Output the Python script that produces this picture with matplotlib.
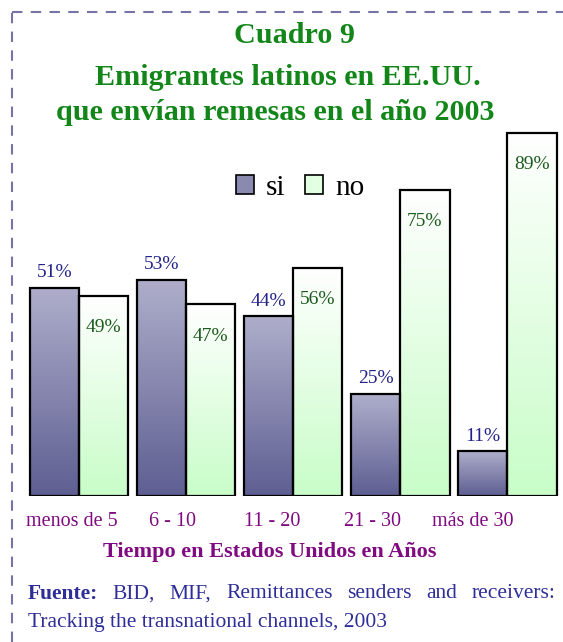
import numpy as np
import matplotlib
matplotlib.use("Agg")
from matplotlib import pyplot as plt
from matplotlib.patches import Patch
from matplotlib.lines import Line2D
from matplotlib.colors import LinearSegmentedColormap

plt.rcParams['font.family'] = ['Liberation Serif', 'DejaVu Serif']

# datos
categorias = ["menos de 5", "6 - 10", "11 - 20", "21 - 30", "más de 30"]
si = [51, 53, 44, 25, 11]
no = [49, 47, 56, 75, 89]
titulo = ["Cuadro 9", "Emigrantes latinos en EE.UU.",
          "que envían remesas en el año 2003"]
xlabel = "Tiempo en Estados Unidos en Años"
fuente1 = ["Fuente:", "BID,", "MIF,", "Remittances", "senders", "and", "receivers:"]
fuente2 = "Tracking the transnational channels, 2003"

W, H = 563, 642
fig = plt.figure(figsize=(W / 100, H / 100), dpi=100)
ax = fig.add_axes([25 / W, (H - 496) / H, (W - 25) / W, 408 / H])
ax.axis("off")

cm_si = LinearSegmentedColormap.from_list("si", ["#5e5e92", "#aeaecb"])
cm_no = LinearSegmentedColormap.from_list("no", ["#c8fdc8", "#ffffff"])
grad = np.linspace(0, 1, 256).reshape(-1, 1)

x = np.arange(len(categorias))
w = 0.46

def grad_bars(xs, vals, cmap):
    bars = ax.bar(xs, vals, width=w, facecolor="none", edgecolor="black",
                  linewidth=1.6, zorder=3)
    for b in bars:
        bx, by = b.get_x(), b.get_y()
        im = ax.imshow(grad, cmap=cmap, origin="lower", aspect="auto",
                       extent=[bx, bx + b.get_width(), by, by + b.get_height()],
                       zorder=2)
        im.set_clip_path(b)
    return bars

grad_bars(x - w / 2, si, cm_si)
grad_bars(x + w / 2, no, cm_no)
ax.set_xlim(-0.505, 4.52)
ax.set_ylim(0, 100)

for i in range(len(categorias)):
    ax.text(x[i] - w / 2, si[i] + 1.6, f"{si[i]}%", ha="center", va="bottom",
            fontsize=14, color="#22228a", zorder=4)
    ax.text(x[i] + w / 2, no[i] - 7.8, f"{no[i]}%", ha="center", va="center",
            fontsize=14, color="#1d5a1d", zorder=4)

# etiquetas de categoría (ligeramente desplazadas como en el original)
pos_lab = x * 0.935 - 0.065
for p, c in zip(pos_lab, categorias):
    ax.text(p, -6.2, c, ha="center", va="center", fontsize=14.5,
            color="#800a80")

fig.text(270 / W, 1 - 552 / H, xlabel, ha="center", va="center",
         fontsize=16, fontweight="bold", color="#800a80")

# título, una línea a la vez (centro x, línea base y)
tit_pos = [(295, 43), (288, 85), (275, 120)]
for linea, (px, py) in zip(titulo, tit_pos):
    fig.text(px / W, 1 - py / H, linea, ha="center", va="baseline",
             fontsize=21.7, fontweight="bold", color="#13861a")

handles = [Patch(facecolor="#8a8ab0", edgecolor="black", linewidth=1.2),
           Patch(facecolor="#e2ffe2", edgecolor="black", linewidth=1.2)]
fig.legend(handles, ["si", "no"], loc="center",
           bbox_to_anchor=(300 / W, 1 - 188 / H), ncol=2, frameon=False,
           fontsize=21, handlelength=0.62, handleheight=0.62,
           handletextpad=0.4, columnspacing=0.7)

# fuente, justificada
fig.canvas.draw()
r = fig.canvas.get_renderer()
left, right = 28, 556
y1 = H - 594
txts = []
for k, wd in enumerate(fuente1):
    t = fig.text(0, y1 / H, wd, ha="left", va="center", fontsize=15.5,
                 color="#2e2e98", fontweight="bold" if k == 0 else "normal")
    txts.append(t)
widths = [t.get_window_extent(r).width for t in txts]
gap = (right - left - sum(widths)) / (len(txts) - 1)
cur = left
for t, wd in zip(txts, widths):
    t.set_x(cur / W)
    cur += wd + gap
fig.text(left / W, 1 - 622 / H, fuente2, ha="left", va="center",
         fontsize=15.5, color="#2e2e98")

# borde punteado
fig.add_artist(Line2D([12 / W, 1.0], [1 - 12 / H, 1 - 12 / H],
                      transform=fig.transFigure, color="#7474a6",
                      linewidth=1.5, dashes=(5, 4)))
fig.add_artist(Line2D([12 / W, 12 / W], [0, 1 - 12 / H],
                      transform=fig.transFigure, color="#7474a6",
                      linewidth=1.5, dashes=(5, 4)))

fig.savefig("out.png", dpi=100)
